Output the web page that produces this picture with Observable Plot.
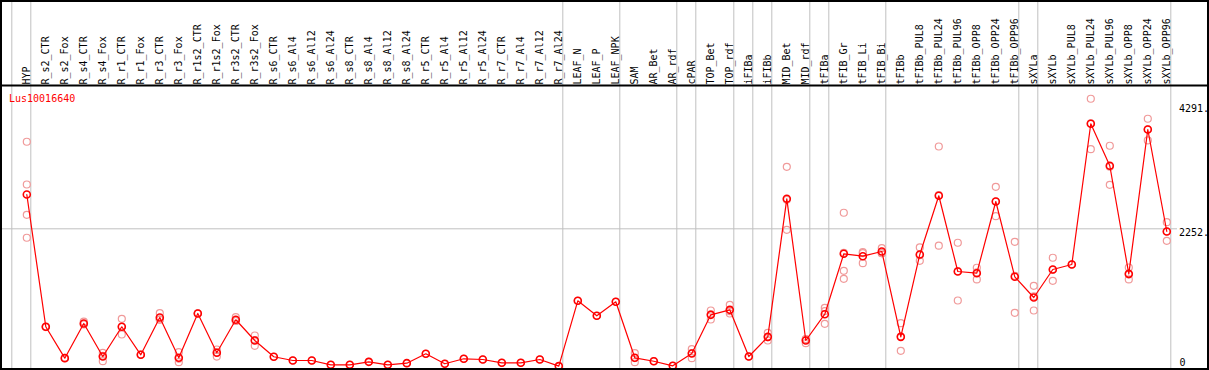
<!DOCTYPE html>
<html><head><meta charset="utf-8">
<script src="https://cdn.jsdelivr.net/npm/d3@7"></script>
<script src="https://cdn.jsdelivr.net/npm/@observablehq/plot@0.6"></script>
<style>
body{margin:0;background:#fff;}
#chart svg{display:block; outline:2px solid #000; outline-offset:-2px; background:#fff;}
</style></head><body><div id="chart"></div>
<script>
const geneName = "Lus10016640";
const categories = ["HYP","R_s2_CTR","R_s2_Fox","R_s4_CTR","R_s4_Fox","R_r1_CTR","R_r1_Fox","R_r3_CTR","R_r3_Fox","R_r1s2_CTR","R_r1s2_Fox","R_r3s2_CTR","R_r3s2_Fox","R_s6_CTR","R_s6_Al4","R_s6_Al12","R_s6_Al24","R_s8_CTR","R_s8_Al4","R_s8_Al12","R_s8_Al24","R_r5_CTR","R_r5_Al4","R_r5_Al12","R_r5_Al24","R_r7_CTR","R_r7_Al4","R_r7_Al12","R_r7_Al24","LEAF_N","LEAF_P","LEAF_NPK","SAM","AR_Bet","AR_rdf","cPAR","TOP_Bet","TOP_rdf","iFIBa","iFIBb","MID_Bet","MID_rdf","tFIBa","tFIB_Gr","tFIB_Li","tFIB_Bi","tFIBb","tFIBb_PUL8","tFIBb_PUL24","tFIBb_PUL96","tFIBb_OPP8","tFIBb_OPP24","tFIBb_OPP96","sXYLa","sXYLb","sXYLb_PUL8","sXYLb_PUL24","sXYLb_PUL96","sXYLb_OPP8","sXYLb_OPP24","sXYLb_OPP96"];
const means = [2815,645,130,699,157,645,185,797,136,863,218,760,420,153,92,92,21,21,70,21,48,202,38,120,108,54,54,108,0,1071,825,1055,136,80,5,207,841,923,157,480,2744,420,851,1842,1803,1880,480,1831,2794,1552,1524,2700,1465,1125,1585,1667,3975,3286,1513,3881,2208];
const replicates = [
  [3680,2979,2482,2105],[645,640],[130,135],[731,682],[218,80,170],[776,518,645],[185,190],[868,760,765],[228,64,120],[863,865],[272,157,225],[802,740,740],[502,333,425],
  [153],[92],[92],[21],[21],[70],[21],[48],[202],[38],[120],[108],[54],[54],[108],[0],
  [1071],[825],[1055],[212,64,132],[80],[5],[277,130,214],[912,764,847],[1005,863,901],[157],[546,420,474],[3269,2236,2727],[376,440,444],[956,694,903],
  [2515,1563,1432,1858],[1868,1688,1853],[1934,1853,1853],[704,251,485],[1946,1727,1820],[3602,1975,2805],[2023,1076,1557],[1613,1421,1538],[2941,2459,2700],[2039,874,1482],
  [1317,912,1146],[1777,1399,1579],[1667],[4385,3558,3982],[3614,2974,3270],[1617,1421,1501],[4057,3701,3885],[2361,2055,2208]
];
const separatorsAfter = ["HYP","R_r7_Al24","LEAF_NPK","AR_rdf","cPAR","TOP_rdf","iFIBa","iFIBb","MID_rdf","tFIBa","tFIB_Bi","tFIBb_OPP96","sXYLa","sXYLb_OPP96"];
const yTicks = [4291, 2252, 0];
const yTickLabels = ["4291.", "2252.", "0"];
const gridValues = [2252];

const idx = new Map(categories.map((c, i) => [c, i]));
const meanData = categories.map((c, i) => ({i, c, v: means[i]}));
const repData = replicates.flatMap((r, i) => r.map(v => ({i, v})));
const sepData = [-1, ...separatorsAfter.map(n => idx.get(n))];
const tickData = yTicks.map((v, k) => ({v, label: yTickLabels[k]}));
const mono = "DejaVu Sans Mono";

const chart = Plot.plot({
  width: 1209, height: 370,
  marginTop: 85, marginLeft: 1, marginRight: 2, marginBottom: 1,
  style: {background: "#fff", fontFamily: mono, fontSize: "10px"},
  x: {type: "linear", domain: [0, categories.length - 1], range: [26.3, 1166.3], axis: null},
  y: {domain: [0, 4291], range: [365.6, 104], axis: null},
  marks: [
    Plot.ruleX(sepData, {x: d => d, dx: 4, stroke: "#c0c0c0", strokeWidth: 1, insetTop: -85}),
    Plot.ruleY(gridValues, {y: d => d, stroke: "#c0c0c0", strokeWidth: 1, insetRight: 30}),
    Plot.frame({anchor: "top", stroke: "#000", strokeWidth: 2}),
    Plot.text(meanData, {x: "i", text: "c", frameAnchor: "top", rotate: -90, textAnchor: "start", lineAnchor: "middle", dy: -1, fill: "#000", fontFamily: mono, fontSize: 10}),
    Plot.text([geneName], {text: d => d, frameAnchor: "top-left", dx: 7.5, dy: 9, textAnchor: "start", lineAnchor: "top", fill: "#ff0000", fontFamily: mono, fontSize: 10}),
    Plot.text(tickData.filter(d => d.v > 0), {y: "v", text: "label", frameAnchor: "right", dx: -28.5, dy: 0.5, textAnchor: "start", lineAnchor: "top", fill: "#000", fontFamily: mono, fontSize: 10}),
    Plot.text(tickData.filter(d => d.v === 0), {y: "v", text: "label", frameAnchor: "right", dx: -28, dy: 0, textAnchor: "start", lineAnchor: "bottom", fill: "#000", fontFamily: mono, fontSize: 10}),
    Plot.dot(repData, {x: "i", y: "v", r: 3.5, stroke: "#f09a9a", strokeWidth: 1.2, fill: "none"}),
    Plot.line(meanData, {x: "i", y: "v", stroke: "#ff0000", strokeWidth: 1.2}),
    Plot.dot(meanData, {x: "i", y: "v", r: 3.5, stroke: "#ff0000", strokeWidth: 1.6, fill: "none"})
  ]
});
document.getElementById("chart").appendChild(chart);
</script></body></html>
